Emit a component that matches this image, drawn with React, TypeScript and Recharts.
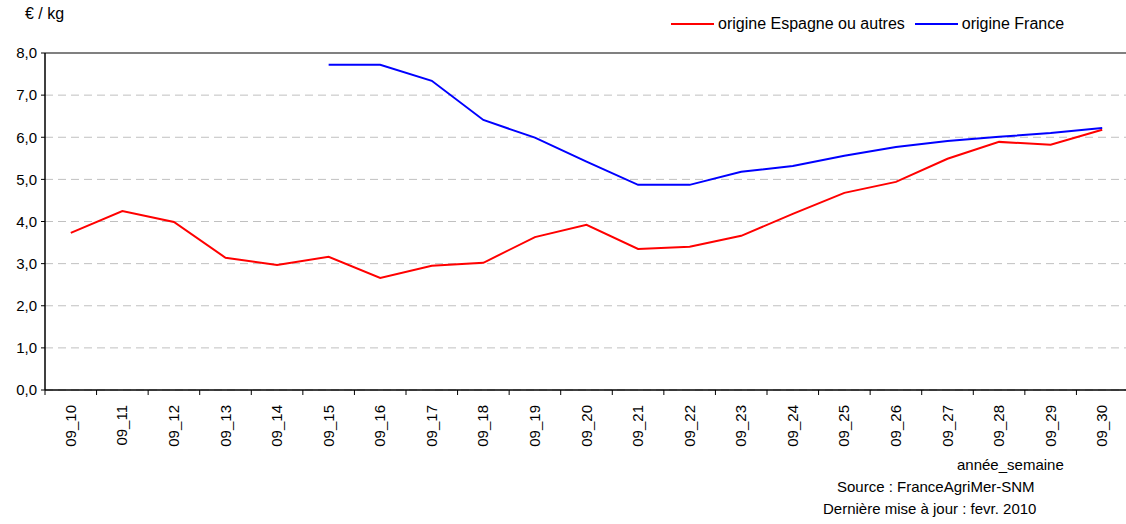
import React from 'react';
import { ComposedChart, Line, XAxis, YAxis, CartesianGrid, ReferenceLine } from 'recharts';

const weeks = ['09_10','09_11','09_12','09_13','09_14','09_15','09_16','09_17','09_18','09_19','09_20','09_21','09_22','09_23','09_24','09_25','09_26','09_27','09_28','09_29','09_30'];
const espagne = [3.73,4.25,3.99,3.14,2.97,3.16,2.66,2.95,3.02,3.63,3.92,3.35,3.40,3.66,4.18,4.68,4.94,5.49,5.89,5.82,6.18];
const france: (number | null)[] = [null,null,null,null,null,7.72,7.72,7.34,6.41,5.99,5.42,4.87,4.87,5.18,5.32,5.56,5.77,5.91,6.01,6.10,6.22];
const yTicks = [0,1,2,3,4,5,6,7,8];
const seriesNames = ['origine Espagne ou autres', 'origine France'];
const seriesColors = ['#ff0000', '#0000ff'];

const data = weeks.map((w, i) => ({ week: w, espagne: espagne[i], france: france[i] }));

const W = 1128;
const H = 524;
const LEFT = 45;
const FONT = '"Liberation Sans", Arial, sans-serif';
const BAND = (W - LEFT) / weeks.length;

const XTick = (props: any) => {
  const { x, y, payload } = props;
  const off = BAND / 2;
  return (
    <g>
      <line x1={x - off} x2={x - off} y1={y} y2={y + 5} stroke="#000" strokeWidth={1} />
      <text
        x={0}
        y={0}
        transform={`translate(${x + 5}, ${y + 15}) rotate(-90)`}
        textAnchor="end"
        fontSize={15}
        fontFamily={FONT}
        fill="#000"
      >
        {payload.value}
      </text>
    </g>
  );
};

export default function App() {
  return (
    <div style={{ position: 'absolute', left: 0, top: 0, width: 1126, height: 524, overflow: 'hidden', background: '#fff' }}>
      <ComposedChart width={W} height={H} data={data} margin={{ top: 53, right: 0, left: 0, bottom: 64 }}>
        <CartesianGrid vertical={false} stroke="#c0c0c0" strokeDasharray="8 5" />
        <XAxis
          dataKey="week"
          scale="band"
          height={70}
          axisLine={{ stroke: '#000', strokeWidth: 1.5 }}
          tickLine={false}
          tickSize={0}
          tickMargin={0}
          interval={0}
          tick={<XTick />}
        />
        <YAxis
          width={LEFT}
          domain={[0, 8]}
          ticks={yTicks}
          interval={0}
          axisLine={{ stroke: '#000', strokeWidth: 1.5 }}
          tickLine={{ stroke: '#000' }}
          tickSize={4}
          tickMargin={4}
          tickFormatter={(v: number) => v.toFixed(1).replace('.', ',')}
          tick={{ fill: '#000', fontSize: 15, fontFamily: FONT }}
        />
        <ReferenceLine y={8} stroke="#808080" strokeWidth={2} />
        <Line dataKey="espagne" name={seriesNames[0]} stroke={seriesColors[0]} strokeWidth={2} dot={false} isAnimationActive={false} />
        <Line dataKey="france" name={seriesNames[1]} stroke={seriesColors[1]} strokeWidth={2} dot={false} isAnimationActive={false} />
      </ComposedChart>
      <div style={{ position: 'absolute', left: 671, top: 15, display: 'flex', alignItems: 'center', fontFamily: FONT, fontSize: 16, color: '#000' }}>
        {seriesNames.map((n, i) => (
          <div key={n} style={{ display: 'flex', alignItems: 'center', marginRight: i === 0 ? 10 : 0 }}>
            <div style={{ width: 43, height: 2, background: seriesColors[i], marginRight: 4 }} />
            <span>{n}</span>
          </div>
        ))}
      </div>
      <div style={{ position: 'absolute', left: 25, top: 5, fontFamily: FONT, fontSize: 16, color: '#000' }}>€ / kg</div>
      <div style={{ position: 'absolute', left: 957, top: 456, fontFamily: FONT, fontSize: 15, color: '#000' }}>année_semaine</div>
      <div style={{ position: 'absolute', left: 837, top: 478, fontFamily: FONT, fontSize: 15, color: '#000' }}>Source : FranceAgriMer-SNM</div>
      <div style={{ position: 'absolute', left: 823, top: 500, fontFamily: FONT, fontSize: 15, color: '#000' }}>Dernière mise à jour : fevr. 2010</div>
    </div>
  );
}
